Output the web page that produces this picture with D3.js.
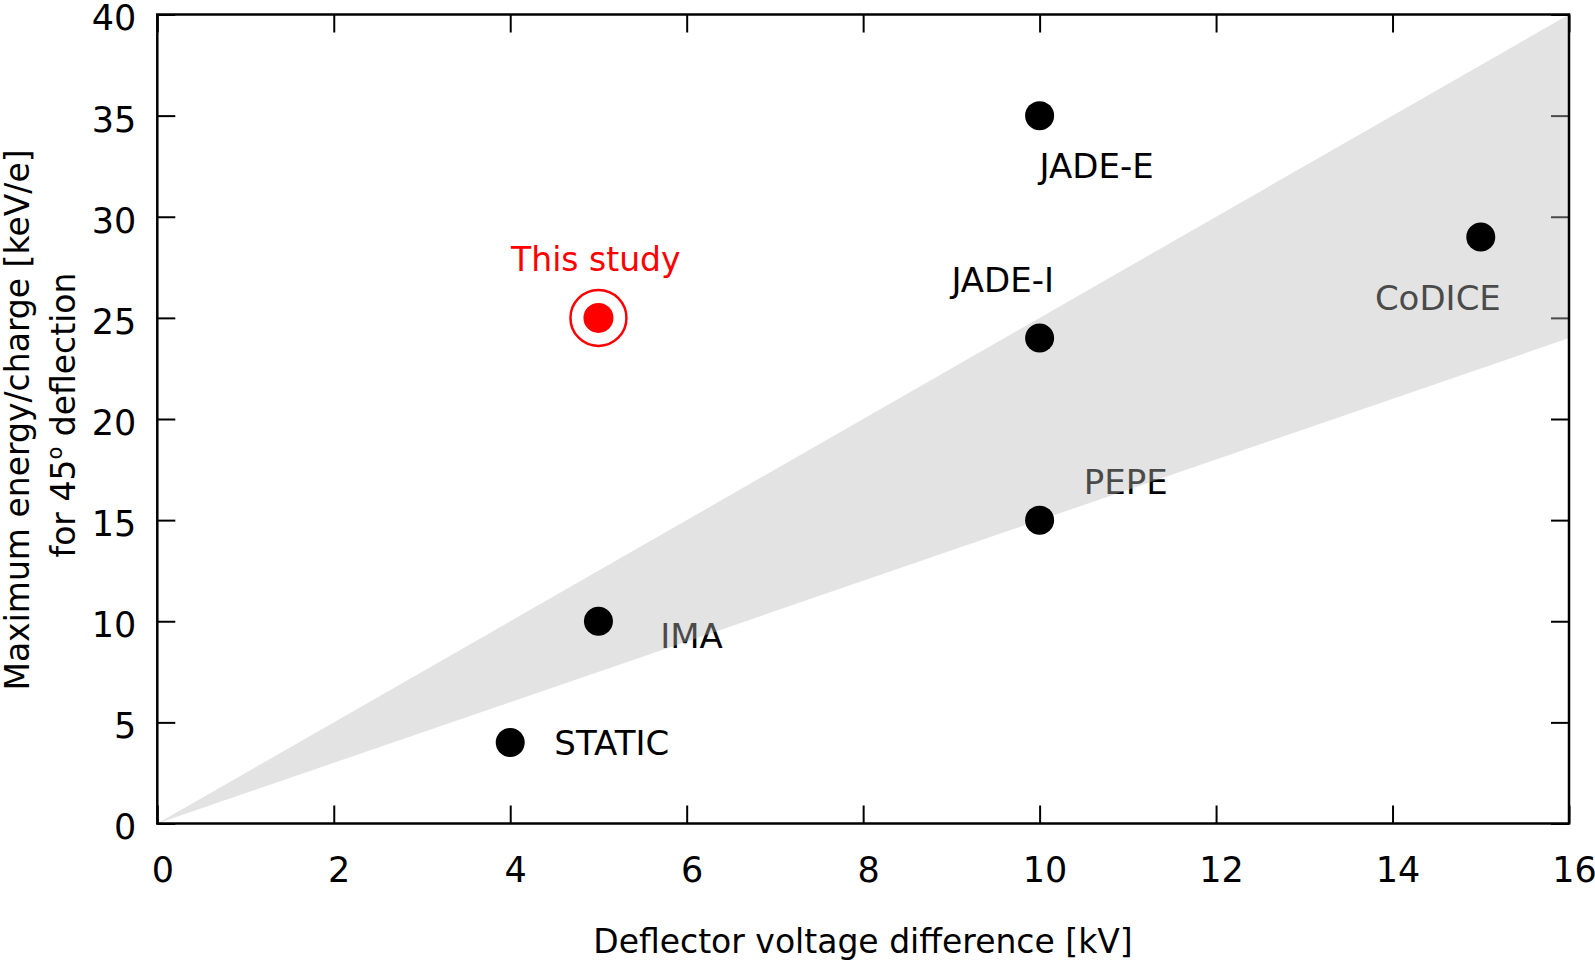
<!DOCTYPE html>
<html>
<head>
<meta charset="utf-8">
<script src="https://cdn.jsdelivr.net/npm/d3@7"></script>
<style>
  body { margin: 0; background: #fff; }
  text { font-family: "DejaVu Sans", Verdana, sans-serif; }
</style>
</head>
<body>
<div id="chart"></div>
<script>
// instruments: deflector voltage [kV] vs max energy/charge [keV/e]
var names   = ["STATIC", "IMA", "PEPE", "JADE-I", "JADE-E", "CoDICE"];
var voltage = [4, 5, 10, 10, 10, 15];
var energy  = [4, 10, 15, 24, 35, 29];

// this study
var studyName = "This study";
var studyVoltage = 5;
var studyEnergy = 25;

// label anchors (data coords, left edge / baseline)
var labelX = [4.5, 5.7, 10.5, 9.0, 10.0, 13.8];
var labelY = [3.4, 8.7, 16.3, 26.3, 31.9, 25.4];
var studyLabelX = 4.97;
var studyLabelY = 27.3;

// shaded band between slopes 1.5 and 2.5 keV/e per kV
var bandX = [0, 16, 16];
var bandY = [0, 40, 24];

var xTicks = [0, 2, 4, 6, 8, 10, 12, 14, 16];
var yTicks = [0, 5, 10, 15, 20, 25, 30, 35, 40];

var margin = {top: 14.5, right: 26, bottom: 138.5, left: 157.3},
    width = 1595 - margin.left - margin.right,
    height = 962 - margin.top - margin.bottom;

var svg = d3.select("#chart")
  .append("svg")
    .attr("width", 1595)
    .attr("height", 962)
  .append("g")
    .attr("transform", "translate(" + margin.left + "," + margin.top + ")");

var x = d3.scaleLinear().domain([0, 16]).range([0, width]);
var y = d3.scaleLinear().domain([0, 40]).range([height, 0]);

// axes with inward ticks
var xAxis = svg.append("g")
    .attr("transform", "translate(0," + height + ")")
    .call(d3.axisBottom(x).tickValues(xTicks).tickSize(-18).tickPadding(34));
var yAxis = svg.append("g")
    .call(d3.axisLeft(y).tickValues(yTicks).tickSize(-18).tickPadding(21));
svg.append("g")
    .call(d3.axisTop(x).tickValues(xTicks).tickSize(-18).tickFormat(""));
svg.append("g")
    .attr("transform", "translate(" + width + ",0)")
    .call(d3.axisRight(y).tickValues(yTicks).tickSize(-18).tickFormat(""));

svg.selectAll(".domain").remove();
svg.selectAll(".tick line").attr("stroke", "#000").attr("stroke-width", 2);
svg.selectAll(".tick text")
    .style("font-family", "'DejaVu Sans', Verdana, sans-serif")
    .style("font-size", "35px")
    .attr("fill", "#000");
xAxis.selectAll(".tick text").attr("dx", 5);
yAxis.selectAll(".tick text").attr("dy", "0.44em");

// point labels (under the band, so they get greyed by it)
svg.selectAll(".plabel")
    .data(names)
    .enter()
    .append("text")
    .attr("class", "plabel")
    .attr("x", (d, i) => x(labelX[i]))
    .attr("y", (d, i) => y(labelY[i]))
    .style("font-size", "34px")
    .attr("fill", "#000")
    .text(d => d);

// band
svg.append("path")
    .datum(bandX.map((d, i) => [d, bandY[i]]))
    .attr("d", d3.line().x(d => x(d[0])).y(d => y(d[1])).curve(d3.curveLinearClosed))
    .attr("fill", "rgb(185,185,185)")
    .attr("fill-opacity", 0.4);

// border
svg.append("rect")
    .attr("width", width)
    .attr("height", height)
    .attr("fill", "none")
    .attr("stroke", "#000")
    .attr("stroke-width", 2.5);

// points
svg.selectAll(".pt")
    .data(names)
    .enter()
    .append("circle")
    .attr("class", "pt")
    .attr("cx", (d, i) => x(voltage[i]))
    .attr("cy", (d, i) => y(energy[i]))
    .attr("r", 14.5)
    .attr("fill", "#000");

// this study
svg.append("circle")
    .attr("cx", x(studyVoltage))
    .attr("cy", y(studyEnergy))
    .attr("r", 28)
    .attr("fill", "none")
    .attr("stroke", "#f00")
    .attr("stroke-width", 2.5);
svg.append("circle")
    .attr("cx", x(studyVoltage))
    .attr("cy", y(studyEnergy))
    .attr("r", 15)
    .attr("fill", "#f00");
svg.append("text")
    .attr("x", x(studyLabelX))
    .attr("y", y(studyLabelY))
    .attr("text-anchor", "middle")
    .style("font-size", "33px")
    .attr("fill", "#f00")
    .text(studyName);

// axis titles
svg.append("text")
    .attr("x", 863 - margin.left)
    .attr("y", 953 - margin.top)
    .attr("text-anchor", "middle")
    .style("font-size", "33px")
    .text("Deflector voltage difference [kV]");

var yt = svg.append("text")
    .attr("transform", "translate(" + (29 - margin.left) + "," + (420 - margin.top) + ") rotate(-90)")
    .attr("text-anchor", "middle")
    .style("font-size", "33px");
yt.append("tspan").attr("x", 0).attr("y", 0).text("Maximum energy/charge [keV/e]");

var yt2 = svg.append("text")
    .attr("transform", "translate(" + (75 - margin.left) + "," + (415 - margin.top) + ") rotate(-90)")
    .attr("text-anchor", "middle")
    .style("font-size", "33px");
yt2.append("tspan").text("for 45");
yt2.append("tspan").attr("dy", -13).style("font-size", "21px").text("o");
yt2.append("tspan").attr("dy", 13).text(" deflection");
</script>
</body>
</html>
